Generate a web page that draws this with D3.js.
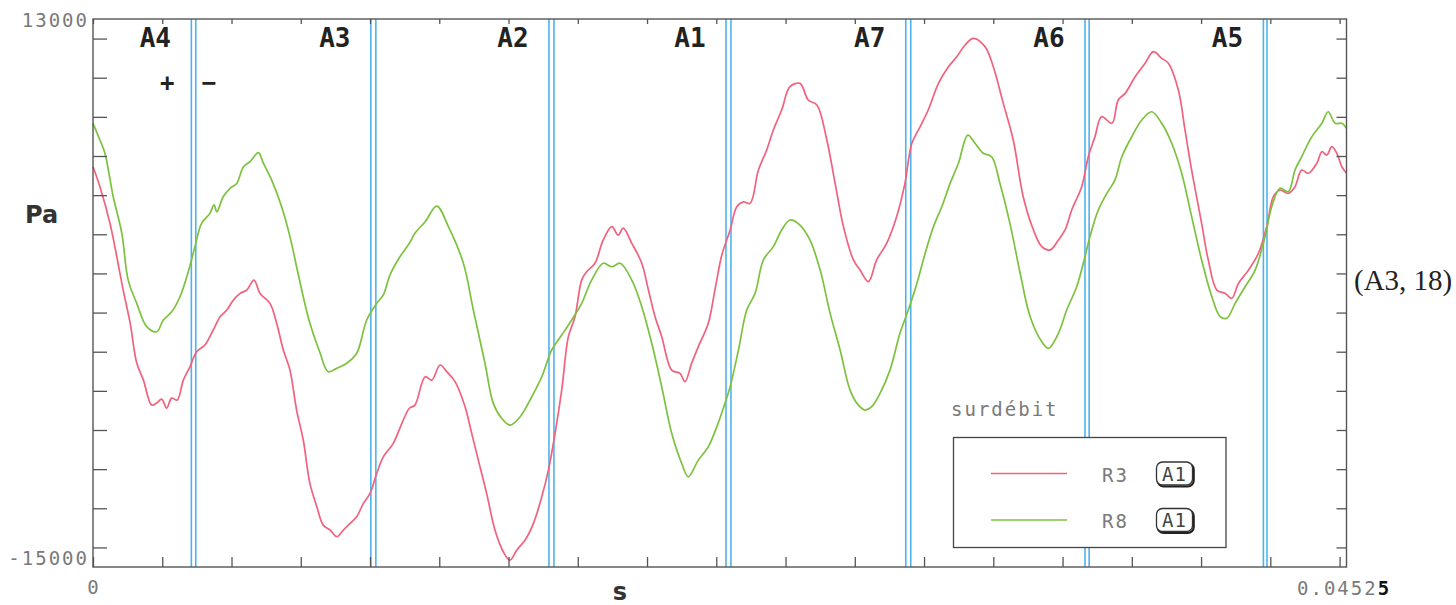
<!DOCTYPE html>
<html>
<head>
<meta charset="utf-8">
<script src="https://cdn.jsdelivr.net/npm/d3@7"></script>
<style>
  html, body { margin: 0; padding: 0; background: #fff; }
  svg { display: block; }
  .mono { font-family: "DejaVu Sans Mono", monospace; }
</style>
</head>
<body>
<svg id="chart" width="1456" height="605"></svg>
<script>
// Time axis (s) and pressure axis (Pa)
const timeDomain = [0, 0.04525];
const paDomain = [-15000, 13000];
const paTicks = [12000, 10000, 8000, 6000, 4000, 2000, 0, -2000, -4000, -6000, -8000, -10000, -12000, -14000];
const timeTicks = d3.range(0, 0.0451, 0.0025);

// Sector names and the double boundary lines that close each sector (s)
const sectorNames = ["A4", "A3", "A2", "A1", "A7", "A6", "A5"];
const boundaryA = [0.00355, 0.01003, 0.01646, 0.02285, 0.02934, 0.03581, 0.04225];
const boundaryB = [0.00371, 0.01021, 0.01664, 0.02303, 0.02952, 0.03596, 0.04238];

// Pressure traces [t (s), p (Pa)]
const r3 = [[0,5450],[0.00025,4430],[0.00061,2580],[0.00086,850],[0.00109,-850],[0.00134,-2530],[0.00158,-4580],[0.00182,-5450],[0.00212,-6730],[0.0023,-6620],[0.00248,-6420],[0.00266,-6880],[0.00284,-6370],[0.00304,-6470],[0.00326,-5450],[0.0035,-4770],[0.00374,-4000],[0.00404,-3660],[0.00434,-2890],[0.00459,-2210],[0.00483,-1870],[0.00507,-1360],[0.00531,-1020],[0.00555,-850],[0.00581,-340],[0.00603,-1020],[0.00639,-1530],[0.00663,-2550],[0.00687,-3910],[0.00711,-4940],[0.00735,-6980],[0.00759,-8510],[0.00783,-10730],[0.00808,-11920],[0.00831,-12860],[0.00856,-13110],[0.0088,-13450],[0.00904,-13110],[0.00928,-12770],[0.00952,-12430],[0.00976,-11750],[0.01,-11240],[0.01024,-10220],[0.01048,-9370],[0.01084,-8680],[0.0112,-7490],[0.01142,-6890],[0.01162,-6730],[0.01199,-5280],[0.01223,-5450],[0.01253,-4680],[0.01277,-5020],[0.01307,-5530],[0.01343,-6810],[0.01367,-8170],[0.01391,-9540],[0.01421,-11240],[0.01451,-13110],[0.01481,-14220],[0.01505,-14650],[0.0153,-14130],[0.0156,-13620],[0.0159,-12770],[0.0162,-11410],[0.01644,-10050],[0.01668,-8170],[0.01692,-5960],[0.01716,-3230],[0.0174,-2210],[0.01764,-340],[0.01782,90],[0.01812,520],[0.01842,1710],[0.01873,2390],[0.01896,1960],[0.01914,2310],[0.01945,1540],[0.01981,520],[0.02005,-850],[0.02029,-2210],[0.02053,-3230],[0.02089,-4940],[0.02119,-5110],[0.02137,-5530],[0.02161,-4590],[0.02185,-3750],[0.02221,-2550],[0.02245,-850],[0.0227,940],[0.023,2220],[0.02324,3410],[0.02348,3660],[0.02372,3580],[0.02402,5280],[0.02432,6310],[0.02456,7330],[0.02486,8350],[0.02516,9540],[0.02552,9710],[0.02582,8860],[0.02613,8610],[0.02649,6820],[0.02679,4600],[0.02709,2390],[0.02745,690],[0.02769,170],[0.02799,-420],[0.02829,690],[0.02865,1540],[0.02901,2900],[0.02931,4600],[0.02956,6650],[0.02986,7500],[0.03015,8350],[0.03052,9710],[0.03088,10560],[0.03118,11070],[0.03148,11670],[0.03178,12010],[0.0322,11590],[0.0325,10560],[0.03286,8690],[0.03322,6820],[0.03358,3920],[0.03395,2220],[0.03425,1370],[0.03455,1200],[0.03485,1710],[0.03509,2220],[0.03533,3240],[0.03569,4430],[0.03593,5960],[0.03617,6990],[0.03641,8010],[0.03678,7670],[0.03701,8860],[0.03726,9200],[0.03762,10050],[0.03798,10740],[0.03828,11330],[0.03858,10990],[0.03882,10740],[0.03918,9370],[0.03942,7330],[0.03966,5280],[0.04002,2560],[0.04026,690],[0.04057,-850],[0.04087,-1020],[0.04111,-1270],[0.04135,-510],[0.04171,170],[0.04207,1030],[0.04237,2390],[0.04261,3920],[0.04285,4260],[0.04315,4090],[0.04339,4430],[0.04363,5280],[0.04387,5120],[0.04418,5630],[0.04436,6220],[0.04454,6050],[0.04472,6480],[0.0449,6140],[0.04508,5450],[0.04525,5120]];

const r8 = [[0,7670],[0.00025,6820],[0.00043,6140],[0.00073,3920],[0.00104,2050],[0.00127,-340],[0.00158,-1530],[0.00194,-2720],[0.0023,-2980],[0.00254,-2380],[0.00284,-1960],[0.00314,-1190],[0.00344,90],[0.00368,1370],[0.00392,2560],[0.00422,3070],[0.00437,3500],[0.00447,3150],[0.0047,3920],[0.00495,4350],[0.00519,4600],[0.00543,5450],[0.00567,5710],[0.00597,6170],[0.00615,5630],[0.00645,4770],[0.00681,3410],[0.00711,1880],[0.00735,340],[0.00759,-1190],[0.00783,-2550],[0.0082,-4080],[0.00849,-5020],[0.0088,-4850],[0.00916,-4590],[0.00952,-4080],[0.00988,-2380],[0.01024,-1530],[0.01048,-1100],[0.01072,-80],[0.01108,850],[0.01142,1540],[0.01162,2050],[0.01199,2640],[0.01241,3440],[0.01283,2390],[0.01337,520],[0.01373,-1870],[0.01415,-4590],[0.01445,-6640],[0.01475,-7400],[0.01505,-7750],[0.01542,-7320],[0.01584,-6300],[0.0162,-5280],[0.01656,-3910],[0.01692,-3150],[0.01728,-2380],[0.01764,-1530],[0.018,-340],[0.01842,520],[0.01873,340],[0.01903,520],[0.01945,-340],[0.01981,-1700],[0.02017,-3570],[0.02053,-5790],[0.02089,-8170],[0.02125,-9700],[0.02149,-10390],[0.02185,-9540],[0.02221,-8860],[0.02252,-7830],[0.02279,-6730],[0.023,-5790],[0.0233,-3910],[0.0236,-1870],[0.0239,-1020],[0.0242,690],[0.02456,1370],[0.02486,2220],[0.02516,2730],[0.02552,2470],[0.02588,1710],[0.02625,170],[0.02661,-2040],[0.02697,-3910],[0.02733,-5960],[0.02763,-6730],[0.02787,-6980],[0.02811,-6810],[0.02841,-6130],[0.02877,-4940],[0.02913,-3060],[0.02943,-1870],[0.02974,-510],[0.03004,1030],[0.03034,2390],[0.03064,3410],[0.03094,4600],[0.03124,5630],[0.03158,7070],[0.03184,6650],[0.03214,6140],[0.03244,5960],[0.03274,4600],[0.0331,2560],[0.03347,10],[0.03383,-2210],[0.03425,-3490],[0.03449,-3830],[0.03485,-3060],[0.03515,-1870],[0.03551,-680],[0.03575,520],[0.03599,1880],[0.03629,3240],[0.0366,4090],[0.03689,4770],[0.03714,5960],[0.0375,6990],[0.03786,7840],[0.03822,8260],[0.03858,7670],[0.03894,6650],[0.0393,5120],[0.03966,2900],[0.04002,690],[0.04039,-1190],[0.04069,-2210],[0.04093,-2290],[0.04123,-1530],[0.04159,-680],[0.04195,170],[0.04231,1880],[0.04255,3410],[0.04285,4350],[0.04315,4180],[0.04339,5280],[0.04363,5960],[0.044,6990],[0.04436,7670],[0.04459,8260],[0.04484,7670],[0.04508,7670],[0.04525,7420]];

const seriesNames = ["R3", "R8"];
const seriesColors = ["#f0627e", "#7cc23e"];

const svg = d3.select("#chart");
const plotLeft = 93, plotRight = 1346.5, plotTop = 19, plotBottom = 567;

const x = d3.scaleLinear().domain(timeDomain).range([plotLeft, plotRight]);
const y = d3.scaleLinear().domain(paDomain).range([plotBottom, plotTop]);

// Sector boundary double lines
const bl = svg.append("g").attr("stroke", "#4fb2ee").attr("stroke-width", 1.6);
boundaryA.concat(boundaryB).forEach(t => {
  bl.append("line").attr("x1", x(t)).attr("x2", x(t)).attr("y1", plotTop).attr("y2", plotBottom);
});

// Traces
const line = d3.line().x(d => x(d[0])).y(d => y(d[1])).curve(d3.curveCatmullRom.alpha(0.5));
[r3, r8].forEach((data, i) => {
  svg.append("path").datum(data)
    .attr("d", line)
    .attr("fill", "none")
    .attr("stroke", seriesColors[i])
    .attr("stroke-width", 1.7)
    .attr("stroke-linejoin", "round");
});

// Frame and inward ticks
const axisColor = "#555";
svg.append("rect").attr("x", plotLeft).attr("y", plotTop)
  .attr("width", plotRight - plotLeft).attr("height", plotBottom - plotTop)
  .attr("fill", "none").attr("stroke", axisColor).attr("stroke-width", 1.4);

function styleAxis(g) {
  g.select(".domain").remove();
  g.selectAll(".tick line").attr("stroke", axisColor).attr("stroke-width", 1.3);
  g.selectAll(".tick text").remove();
}
svg.append("g").attr("transform", `translate(${plotLeft},0)`)
  .call(d3.axisLeft(y).tickValues(paTicks).tickSizeInner(-14).tickSizeOuter(0)).call(styleAxis);
svg.append("g").attr("transform", `translate(${plotRight},0)`)
  .call(d3.axisRight(y).tickValues(paTicks).tickSizeInner(-10).tickSizeOuter(0)).call(styleAxis);
svg.append("g").attr("transform", `translate(0,${plotBottom})`)
  .call(d3.axisBottom(x).tickValues(timeTicks).tickSizeInner(-10).tickSizeOuter(0)).call(styleAxis);
svg.append("g").attr("transform", `translate(0,${plotTop})`)
  .call(d3.axisTop(x).tickValues(timeTicks).tickSizeInner(-5).tickSizeOuter(0)).call(styleAxis);

// Axis extent labels
const numStyle = t => t.attr("class", "mono").attr("font-size", 19).attr("fill", "#7a7a7a").attr("letter-spacing", 2);
svg.append("text").attr("x", plotLeft - 4).attr("y", y(paDomain[1]) + 7.5).attr("text-anchor", "end")
  .text(paDomain[1]).call(numStyle);
svg.append("text").attr("x", plotLeft - 4).attr("y", y(paDomain[0]) - 2.5).attr("text-anchor", "end")
  .text("-" + Math.abs(paDomain[0])).call(numStyle);
svg.append("text").attr("x", x(timeDomain[0]) + 1).attr("y", 594).attr("text-anchor", "middle")
  .text(timeDomain[0]).call(numStyle);
const endLabel = svg.append("text").attr("x", 1297).attr("y", 595).call(numStyle);
const endStr = String(timeDomain[1]);
endLabel.append("tspan").text(endStr.slice(0, -1));
endLabel.append("tspan").attr("fill", "#111").attr("font-weight", "bold").text(endStr.slice(-1));

// Units
svg.append("text").attr("x", 25).attr("y", 223).attr("font-family", "DejaVu Sans")
  .attr("font-weight", "bold").attr("font-size", 24).attr("fill", "#333").text("Pa");
svg.append("text").attr("x", 620).attr("y", 600).attr("text-anchor", "middle").attr("font-family", "DejaVu Sans")
  .attr("font-weight", "bold").attr("font-size", 24).attr("fill", "#333").text("s");

// Sector names
sectorNames.forEach((name, i) => {
  svg.append("text").attr("class", "mono")
    .attr("x", x(boundaryA[i]) - 36).attr("y", 46.5)
    .attr("text-anchor", "middle").attr("font-weight", "bold").attr("font-size", 26)
    .attr("fill", "#222").text(name);
});
// Sign marks either side of the first boundary
svg.append("text").attr("class", "mono").attr("x", x(boundaryA[0]) - 24).attr("y", 91)
  .attr("text-anchor", "middle").attr("font-weight", "bold").attr("font-size", 24).attr("fill", "#222").text("+");
svg.append("text").attr("class", "mono").attr("x", x(boundaryB[0]) + 13).attr("y", 91)
  .attr("text-anchor", "middle").attr("font-weight", "bold").attr("font-size", 24).attr("fill", "#222").text("−");

// Legend
svg.append("text").attr("x", 951).attr("y", 416).text("surdébit").call(numStyle);
svg.append("rect").attr("x", 953.5).attr("y", 437.5).attr("width", 272.5).attr("height", 110)
  .attr("fill", "#fff").attr("stroke", "#444").attr("stroke-width", 1.3);
seriesNames.forEach((name, i) => {
  const ly = 473.5 + i * 46.5;
  svg.append("line").attr("x1", 991).attr("x2", 1067).attr("y1", ly).attr("y2", ly)
    .attr("stroke", seriesColors[i]).attr("stroke-width", 1.7);
  svg.append("text").attr("x", 1102).attr("y", ly + 8).text(name).call(numStyle);
  const bx = 1156.5, by = ly - 11.5;
  svg.append("rect").attr("x", bx + 1.2).attr("y", by + 1.5).attr("width", 36).attr("height", 23).attr("rx", 6)
    .attr("fill", "none").attr("stroke", "#222").attr("stroke-width", 2.2);
  svg.append("rect").attr("x", bx).attr("y", by).attr("width", 36).attr("height", 23).attr("rx", 6)
    .attr("fill", "#fff").attr("stroke", "#333").attr("stroke-width", 1.3);
  svg.append("text").attr("x", bx + 18).attr("y", by + 18.5).attr("text-anchor", "middle")
    .attr("class", "mono").attr("font-size", 19).attr("fill", "#444").attr("letter-spacing", 1).text("A1");
});

// Caption at the right edge
svg.append("text").attr("x", 1354).attr("y", 290).attr("font-family", "Liberation Serif")
  .attr("font-size", 29).attr("fill", "#222").text("(A3, 18)");
</script>
</body>
</html>
